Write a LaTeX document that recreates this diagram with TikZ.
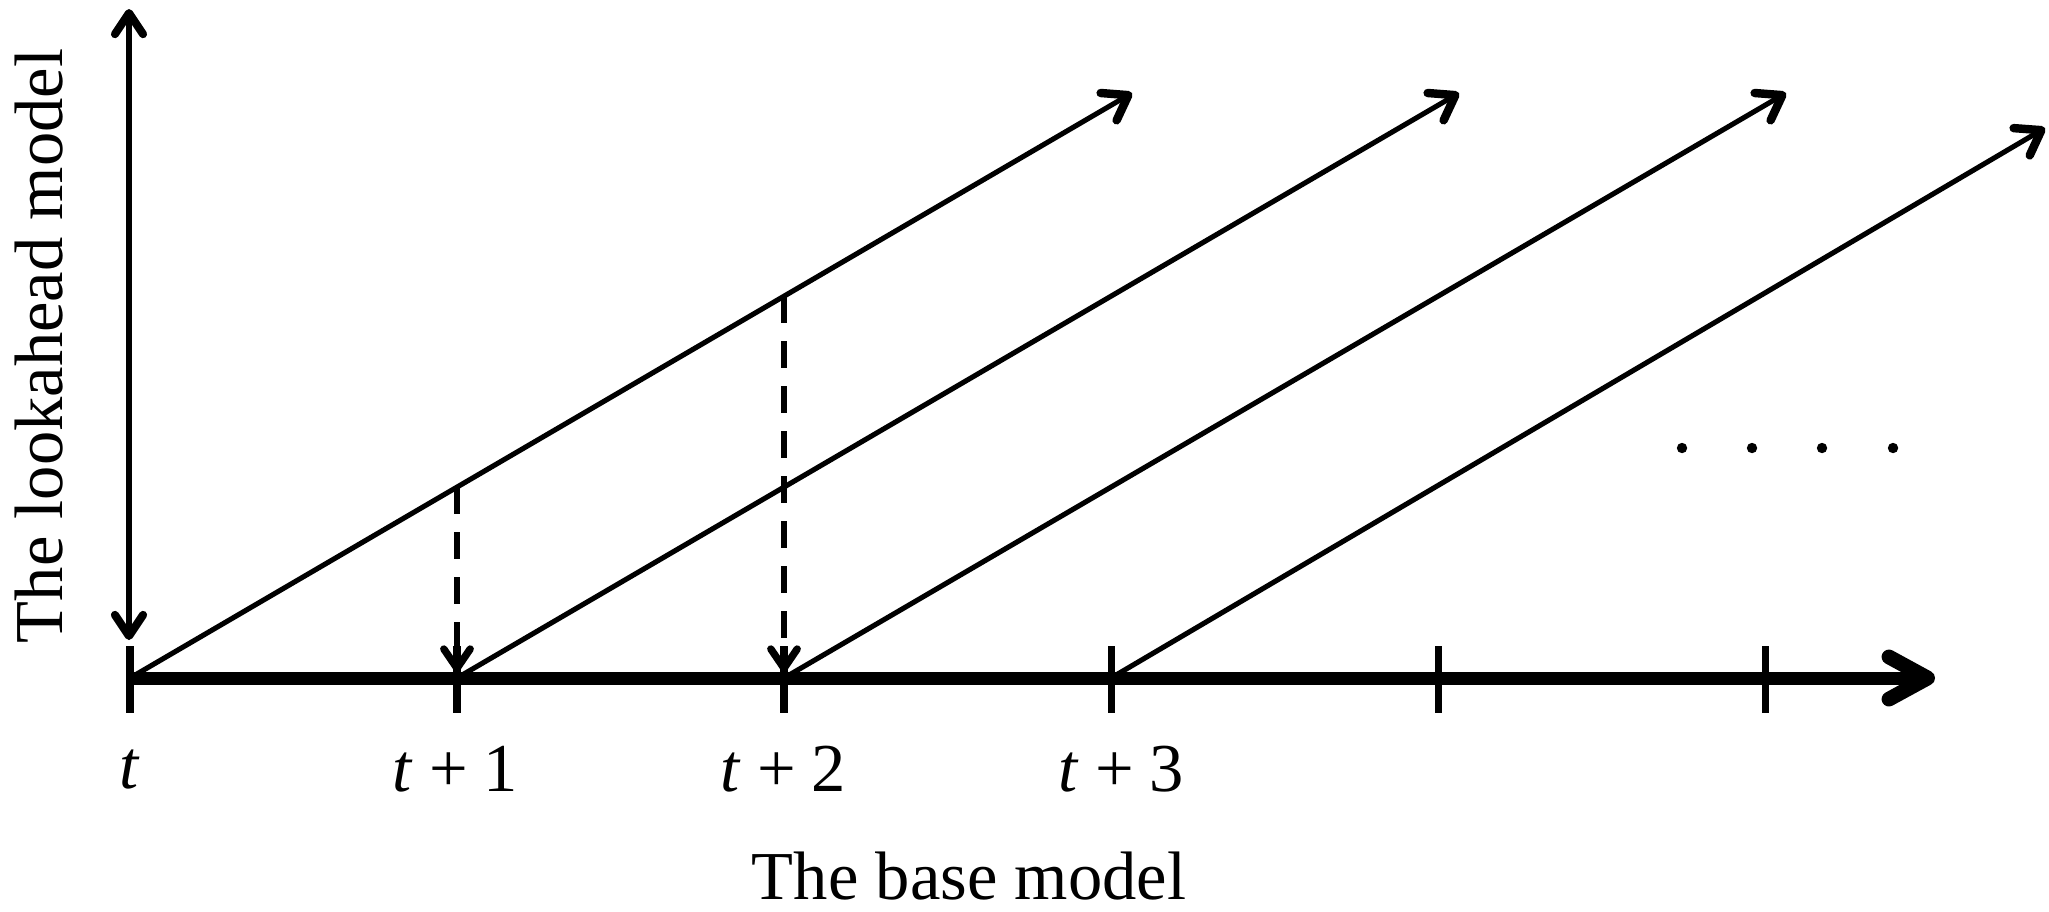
\documentclass[tikz,border=0pt]{standalone}
\usepackage{fontspec}
\setmainfont{Liberation Serif}
\usetikzlibrary{arrows.meta,calc}
\begin{document}
\begin{tikzpicture}[x=0.01cm,y=-0.01cm,
  lbl/.style={font=\fontsize{19.5}{23}\selectfont, inner sep=0pt, anchor=base},
  diag/.style={line width=1.45pt, line cap=round, -{Straight Barb[round,length=6.5pt,width=9pt,line width=2.4pt]}},
  vaxis/.style={line width=1.7pt, {Straight Barb[round,length=6pt,width=8pt,line width=2.3pt]}-{Straight Barb[round,length=6pt,width=8pt,line width=2.3pt]}},
  haxis/.style={line width=3.7pt, -{Straight Barb[round,length=11pt,width=12pt,line width=4.2pt]}},
  tickmark/.style={line width=2pt},
  dashline/.style={line width=1.7pt, dash pattern=on 7.7pt off 5.1pt, -{Straight Barb[round,length=5.5pt,width=7.5pt,line width=2.1pt]}},
  dotmark/.style={fill=black}
]
\useasboundingbox (0,0) rectangle (2049,911);
% ticks on the base axis
\coordinate (T0) at (130,678);
\coordinate (T1) at (457,678);
\coordinate (T2) at (784,678);
\coordinate (T3) at (1111,678);
\coordinate (T4) at (1438,678);
\coordinate (T5) at (1765,678);
\coordinate (AxEnd) at (1935,678);
% vertical axis ends
\coordinate (VTop) at (129,9);
\coordinate (VBot) at (129,640);
% diagonal ends
\coordinate (E0) at (1132,93);
\coordinate (E1) at (1459,93);
\coordinate (E2) at (1786,93);
\coordinate (E3) at (2045,128);
% dashed line starts (on the first diagonal)
\coordinate (D1) at (457,487);
\coordinate (D2) at (784,296);
\coordinate (A1) at (457,672);
\coordinate (A2) at (784,672);

\draw[haxis] (T0) -- (AxEnd);
\foreach \i in {0,...,5}{
  \draw[tickmark] ($(T\i)+(0,-32)$) -- ($(T\i)+(0,35)$);
}
\draw[vaxis] (VBot) -- (VTop);

\draw[diag] (T0) -- (E0);
\draw[diag] (T1) -- (E1);
\draw[diag] (T2) -- (E2);
\draw[diag] (T3) -- (E3);

\draw[dashline] (D1) -- (A1);
\draw[dashline] (D2) -- (A2);

\foreach \x in {1682,1752,1822,1893}{
  \fill[dotmark] (\x,448) circle (5.2);
}

\node[lbl] (L0) at (130,788) {\textit{t}};
\node[lbl] (L1) at (455,791) {\textit{t}\hspace{0.25em}+\hspace{0.22em}1};
\node[lbl] (L2) at (783,791) {\textit{t}\hspace{0.25em}+\hspace{0.22em}2};
\node[lbl] (L3) at (1121,791) {\textit{t}\hspace{0.25em}+\hspace{0.22em}3};
\node[lbl] (XL) at (969,899) {The base model};
\node[lbl, rotate=90] (YL) at (62,346) {The lookahead model};
\end{tikzpicture}
\end{document}
